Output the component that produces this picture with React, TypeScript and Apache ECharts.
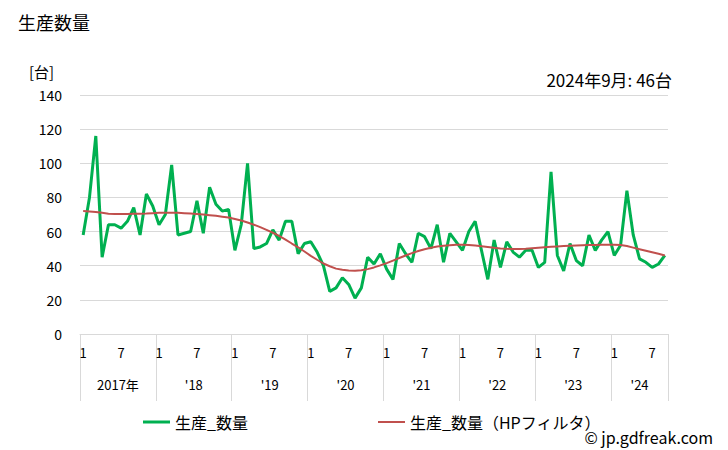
import React, { useEffect, useRef } from "react";
import * as echarts from "echarts";

const years = [2017, 2018, 2019, 2020, 2021, 2022, 2023, 2024];
const lastYearMonths = 9;

const production = [
  58, 80, 116, 45, 64, 64, 62, 66, 74, 58, 82, 75,
  64, 70, 99, 58, 59, 60, 78, 59, 86, 76, 72, 73,
  49, 64, 100, 50, 51, 53, 61, 55, 66, 66, 47, 53,
  54, 48, 40, 25, 27, 33, 29, 21, 27, 45, 41, 47,
  38, 32, 53, 47, 42, 59, 57, 50, 64, 42, 59, 54,
  49, 60, 66, 49, 32, 55, 39, 54, 48, 45, 49, 49,
  39, 42, 95, 46, 37, 53, 43, 40, 58, 49, 55, 60,
  46, 52, 84, 58, 44, 42, 39, 41, 46,
];

const hpFilter = [
  72, 71.8, 71.5, 71, 70.5, 70.3, 70.3, 70.3, 70.4, 70.5, 70.6, 70.8,
  71, 71, 71, 71, 70.8, 70.6, 70.3, 70, 69.6, 69.2, 68.7, 68.2,
  67.4, 66.5, 65.3, 64, 62.6, 61, 59.3, 57.5, 55.3, 53, 50.8, 48.3,
  45.8, 43.5, 41.3, 39.7, 38.3, 37.6, 37.2, 37.1, 37.4, 38, 39, 40.2,
  41.5, 43, 44.5, 46, 47.4, 48.6, 49.6, 50.5, 51.2, 51.7, 52, 52.3,
  52.3, 52.1, 51.8, 51.4, 51, 50.5, 50.1, 49.9, 49.8, 49.8, 49.9, 50.2,
  50.5, 50.8, 51.1, 51.3, 51.5, 51.7, 51.9, 52, 52.1, 52.2, 52.3, 52.3,
  52.3, 52.1, 51.5, 50.6, 49.7, 48.8, 47.9, 47, 46,
];

const yearLabels = ["2017年", "'18", "'19", "'20", "'21", "'22", "'23", "'24"];
const monthTickLabels = ["1", "7"];

const seriesNames = ["生産_数量", "生産_数量（HPフィルタ）"];

const FONT = "'Noto Sans CJK JP', 'Noto Sans', sans-serif";

export default function App() {
  const ref = useRef<HTMLDivElement>(null);
  useEffect(() => {
    if (!ref.current) return;
    const chart = echarts.init(ref.current, undefined, { renderer: "svg" });

    const categories: string[] = [];
    const monthOfCat: number[] = [];
    years.forEach((y, yi) => {
      const n = yi === years.length - 1 ? lastYearMonths : 12;
      for (let m = 1; m <= n; m++) {
        categories.push(`${y}-${m}`);
        monthOfCat.push(m);
      }
    });
    const total = categories.length;

    const yearCenters: Record<string, string> = {};
    years.forEach((y, yi) => {
      const start = yi * 12;
      const n = yi === years.length - 1 ? lastYearMonths : 12;
      yearCenters[String(start + n / 2)] = yearLabels[yi];
    });

    const option: any = {
      animation: false,
      textStyle: { fontFamily: FONT },
      title: [
        { text: "生産数量", left: 13, top: 8, textStyle: { fontSize: 18, fontWeight: "normal", color: "#000", fontFamily: FONT } },
        { text: "[台]", left: 24, top: 59, textStyle: { fontSize: 15, fontWeight: "normal", color: "#000", fontFamily: FONT } },
        { text: "2024年9月: 46台", right: 51, top: 66, textStyle: { fontSize: 17, fontWeight: "normal", color: "#000", fontFamily: FONT } },
        { text: "© jp.gdfreak.com", right: 10, top: 424, textStyle: { fontSize: 16, fontWeight: "normal", color: "#000", fontFamily: FONT } },
      ],
      legend: [
        {
          data: [seriesNames[0]],
          left: 138, top: 409,
          icon: "rect", itemWidth: 27, itemHeight: 3, itemGap: 4,
          textStyle: { fontSize: 16, color: "#000", fontFamily: FONT },
        },
        {
          data: [seriesNames[1]],
          left: 373, top: 409,
          icon: "rect", itemWidth: 27, itemHeight: 2, itemGap: 4,
          textStyle: { fontSize: 16, color: "#000", fontFamily: FONT },
        },
      ],
      grid: { left: 80, right: 60, top: 95, bottom: 116, containLabel: false },
      xAxis: [
        {
          type: "category",
          data: categories,
          boundaryGap: true,
          axisLine: { show: true, lineStyle: { color: "#d9d9d9", width: 1 } },
          axisTick: {
            show: true,
            alignWithLabel: false,
            interval: (i: number) => i % 12 === 0,
            length: 67,
            lineStyle: { color: "#d9d9d9", width: 1 },
          },
          axisLabel: {
            interval: 0,
            margin: 12,
            fontSize: 13,
            color: "#000",
            fontFamily: FONT,
            formatter: (_v: string, i: number) => {
              const m = monthOfCat[i];
              if (m === 1) return monthTickLabels[0];
              if (m === 7) return monthTickLabels[1];
              return "";
            },
          },
          splitLine: { show: false },
        },
        {
          type: "value",
          position: "bottom",
          min: 0,
          max: total,
          interval: 1.5,
          axisLine: { show: false },
          axisTick: { show: false },
          splitLine: { show: false },
          axisLabel: {
            margin: 44,
            fontSize: 13,
            color: "#000",
            fontFamily: FONT,
            showMinLabel: true,
            showMaxLabel: true,
            hideOverlap: false,
            formatter: (v: number) => yearCenters[String(v)] || "",
          },
        },
        {
          type: "value",
          position: "bottom",
          min: 0,
          max: total,
          interval: total,
          axisLine: { show: false },
          axisTick: { show: true, length: 67, lineStyle: { color: "#d9d9d9", width: 1 } },
          splitLine: { show: false },
          axisLabel: { show: false },
        },
      ],
      yAxis: {
        type: "value",
        min: 0,
        max: 140,
        interval: 20,
        axisLine: { show: false },
        axisTick: { show: false },
        axisLabel: { margin: 18, fontSize: 14, color: "#000", fontFamily: FONT },
        splitLine: { lineStyle: { color: "#d9d9d9", width: 1 } },
      },
      series: [
        {
          name: seriesNames[0],
          type: "line",
          data: production,
          showSymbol: false,
          symbol: "none",
          color: "#00b050",
          lineStyle: { width: 3, color: "#00b050" },
          z: 2,
        },
        {
          name: seriesNames[1],
          type: "line",
          data: hpFilter,
          showSymbol: false,
          symbol: "none",
          color: "#c0504d",
          lineStyle: { width: 2, color: "#c0504d" },
          z: 3,
        },
      ],
    };
    chart.setOption(option);
    return () => chart.dispose();
  }, []);
  return (
    <div
      ref={ref}
      style={{ position: "fixed", left: 0, top: 0, width: 728, height: 450, background: "#fff" }}
    />
  );
}
